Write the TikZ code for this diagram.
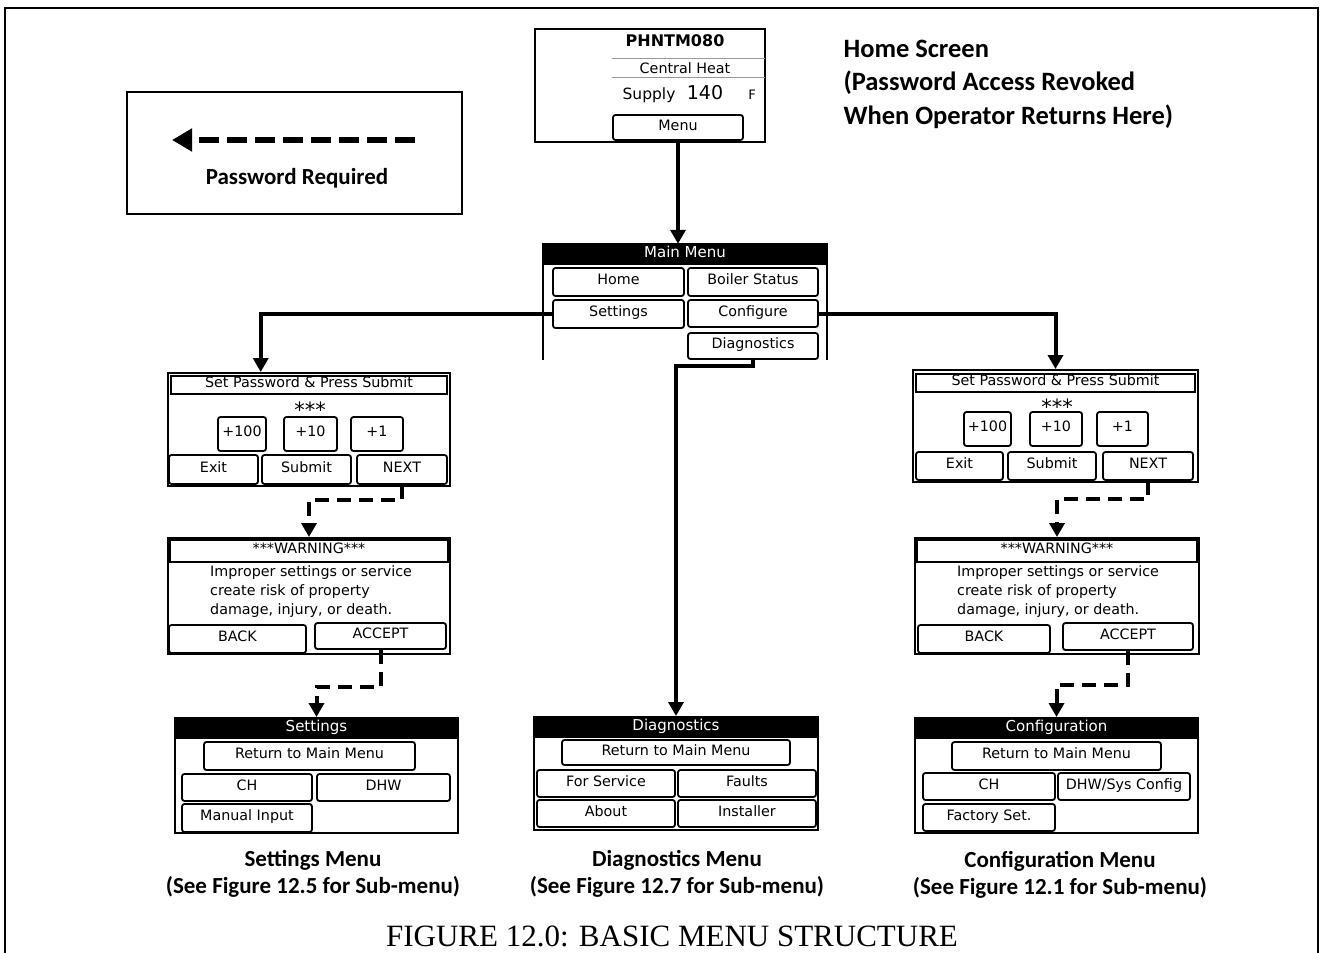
\documentclass[tikz,border=0pt]{standalone}
\usepackage{fontspec}
\setmainfont{Liberation Serif}
\newfontfamily\labfont{Carlito}
\newfontfamily\scrfont{DejaVu Sans}
\usetikzlibrary{arrows.meta,calc}
\tikzset{
 scrtxt/.style={font=\scrfont\fontsize{14.3}{16}\selectfont},
 bigtxt/.style={font=\scrfont\fontsize{15}{17}\selectfont},
 panel/.style={draw, line width=2pt, inner sep=0pt},
 btn/.style={draw, line width=1.8pt, rounded corners=2.5pt, inner sep=0pt, scrtxt, text height=1.6ex, text depth=0.4ex},
 tbox/.style={draw, line width=1.5pt, inner sep=0pt, scrtxt, text height=1.5ex, text depth=0.45ex},
 bar/.style={fill=black, text=white, inner sep=0pt, bigtxt, text height=1.6ex, text depth=0.4ex},
 arr/.style={line width=4pt, -{Triangle[length=14pt,width=15pt]}},
 darr/.style={arr, dash pattern=on 14pt off 8pt},
 lab/.style={font=\labfont\bfseries\fontsize{23}{27}\selectfont},
}
\newcommand\fitnode[7][]{%
  \pgfmathsetmacro\fcx{(#3+#5)/2}\pgfmathsetmacro\fcy{(#4+#6)/2}%
  \pgfmathsetmacro\fw{#5-#3}\pgfmathsetmacro\fh{#6-#4}%
  \node[#1, minimum width=\fw pt, minimum height=\fh pt] (#2) at (\fcx,\fcy) {#7};}
\begin{document}
\begin{tikzpicture}[x=1pt,y=-1pt]
\useasboundingbox (0,0) rectangle (1323,953);
\draw[line width=1.5pt] (5,953) -- (5,8) -- (1318,8) -- (1318,953);

% legend
\fitnode[panel, line width=1.5pt]{leg}{127}{92}{462}{214}{}
\coordinate (lgs) at (415,140);
\coordinate (lge) at (172,140);
\draw[line width=6pt, dash pattern=on 20pt off 8pt, -{Triangle[length=20pt,width=22pt]}] (lgs) -- (lge);
\node[lab] (legt) at (297,178) {Password Required};

% home screen
\fitnode[panel, line width=1.5pt]{home}{535}{29}{765}{142}{}
\node[font=\scrfont\bfseries\fontsize{16}{18}\selectfont] (ph) at (675,41) {PHNTM080};
\draw[black!40, line width=1pt] (612,58) -- (765,58);
\draw[black!40, line width=1pt] (612,77) -- (765,77);
\node[scrtxt] (chh) at (685,68) {Central Heat};
\node[font=\scrfont\fontsize{15.5}{17}\selectfont] (sup) at (649,95) {Supply};
\node[font=\scrfont\fontsize{19}{21}\selectfont] (t140) at (705,93) {140};
\node[font=\scrfont\fontsize{13}{15}\selectfont] (tf) at (752,95) {F};
\fitnode[btn]{menu}{613}{115}{743}{140}{Menu}
\node[lab, font=\labfont\bfseries\fontsize{26.5}{33.5}\selectfont, align=left, anchor=west] (hlab) at (840,84) {Home Screen\\(Password Access Revoked\\When Operator Returns Here)};

% main menu
\fitnode[inner sep=0pt]{mm}{543}{244}{827}{360}{}
\draw[line width=2pt] (mm.south west) -- (mm.north west) -- (mm.north east) -- (mm.south east);
\fitnode[bar]{mmt}{543}{245}{827}{265}{Main Menu}
\fitnode[btn]{mhome}{553}{268}{684}{296}{Home}
\fitnode[btn]{boil}{688}{268}{818}{296}{Boiler Status}
\fitnode[btn]{sett}{553}{300}{684}{328}{Settings}
\fitnode[btn]{conf}{688}{300}{818}{327}{Configure}
\fitnode[btn]{diag}{688}{333}{818}{359}{Diagnostics}
\draw[arr] (menu.south) -- (menu.south |- mm.north);

% left password
\fitnode[panel]{pw1}{168}{373}{450}{486}{}
\fitnode[tbox]{pw1t}{171}{376}{447}{394}{Set Password \& Press Submit}
\node[font=\scrfont\fontsize{21}{23}\selectfont] (pw1s) at (310,410) {***};
\fitnode[btn]{ha}{218}{417}{266}{451}{+100}
\fitnode[btn]{ta}{284}{417}{337}{451}{+10}
\fitnode[btn]{oa}{351}{417}{403}{451}{+1}
\fitnode[btn]{exa}{169}{455}{258}{484}{Exit}
\fitnode[btn]{sba}{262}{455}{351}{484}{Submit}
\fitnode[btn]{nx1}{357}{455}{447}{484}{NEXT}

% left warning
\fitnode[panel]{wn1}{168}{538}{450}{654}{}
\fitnode[tbox]{wn1t}{170}{540}{448}{562}{***WARNING***}
\node[scrtxt, anchor=west, inner sep=0pt] (w1a) at (210,573) {Improper settings or service};
\node[scrtxt, anchor=west, inner sep=0pt] (w1b) at (210,592) {create risk of property};
\node[scrtxt, anchor=west, inner sep=0pt] (w1c) at (210,611) {damage, injury, or death.};
\fitnode[btn]{bk1}{169}{625}{306}{653}{BACK}
\fitnode[btn]{ac1}{315}{623}{446}{649}{ACCEPT}

% settings menu
\fitnode[panel]{sm}{175}{718}{458}{833}{}
\fitnode[bar]{smt}{176}{719}{457}{739}{Settings}
\fitnode[btn]{smr}{204}{742}{415}{770}{Return to Main Menu}
\fitnode[btn]{smch}{182}{774}{312}{801}{CH}
\fitnode[btn]{smd}{317}{774}{450}{801}{DHW}
\fitnode[btn]{smm}{182}{804}{312}{832}{Manual Input}
\node[lab] (sml1) at (313,860) {Settings Menu};
\node[lab] (sml2) at (313,887) {(See Figure 12.5 for Sub-menu)};

% diagnostics menu
\fitnode[panel]{dm}{534}{717}{818}{830}{}
\fitnode[bar]{dmt}{535}{718}{817}{738}{Diagnostics}
\fitnode[btn]{dmr}{562}{740}{790}{765}{Return to Main Menu}
\fitnode[btn]{dfs}{537}{770}{675}{797}{For Service}
\fitnode[btn]{dfa}{678}{770}{816}{797}{Faults}
\fitnode[btn]{dab}{537}{800}{675}{827}{About}
\fitnode[btn]{din}{678}{800}{816}{827}{Installer}
\node[lab] (dml1) at (677,860) {Diagnostics Menu};
\node[lab] (dml2) at (677,887) {(See Figure 12.7 for Sub-menu)};

% right password
\fitnode[panel]{pw2}{913}{370}{1198}{482}{}
\fitnode[tbox]{pw2t}{916}{374}{1195}{392}{Set Password \& Press Submit}
\node[font=\scrfont\fontsize{21}{23}\selectfont] (pw2s) at (1057,407) {***};
\fitnode[btn]{hb}{964}{412}{1011}{446}{+100}
\fitnode[btn]{tb}{1030}{412}{1082}{446}{+10}
\fitnode[btn]{ob}{1097}{412}{1148}{446}{+1}
\fitnode[btn]{exb}{916}{452}{1003}{480}{Exit}
\fitnode[btn]{sbb}{1008}{452}{1096}{480}{Submit}
\fitnode[btn]{nx2}{1103}{452}{1193}{480}{NEXT}

% right warning
\fitnode[panel]{wn2}{915}{538}{1199}{654}{}
\fitnode[tbox]{wn2t}{917}{540}{1197}{562}{***WARNING***}
\node[scrtxt, anchor=west, inner sep=0pt] (w2a) at (957,573) {Improper settings or service};
\node[scrtxt, anchor=west, inner sep=0pt] (w2b) at (957,592) {create risk of property};
\node[scrtxt, anchor=west, inner sep=0pt] (w2c) at (957,611) {damage, injury, or death.};
\fitnode[btn]{bk2}{918}{625}{1050}{653}{BACK}
\fitnode[btn]{ac2}{1063}{623}{1193}{650}{ACCEPT}

% configuration menu
\fitnode[panel]{cm}{915}{718}{1198}{833}{}
\fitnode[bar]{cmt}{916}{719}{1197}{739}{Configuration}
\fitnode[btn]{cmr}{952}{742}{1161}{770}{Return to Main Menu}
\fitnode[btn]{cmch}{923}{773}{1055}{800}{CH}
\fitnode[btn]{cmd}{1058}{773}{1190}{800}{DHW/Sys Config}
\fitnode[btn]{cmf}{923}{804}{1055}{831}{Factory Set.}
\node[lab] (cml1) at (1060,861) {Configuration Menu};
\node[lab] (cml2) at (1060,888) {(See Figure 12.1 for Sub-menu)};

% connectors
\draw[arr] (sett.west) -| ($(pw1.north west)!0.33!(pw1.north east)$);
\draw[arr] (conf.east) -| (pw2.north);
\draw[arr] (diag.south) -- ++(0,6) -| (dm.north);
\draw[darr] (nx1.south) -- ++(0,15) -| (wn1.north);
\draw[darr] (ac1.south) -- ++(0,37) -| (sm.north);
\draw[darr] (nx2.south) -- ++(0,18) -| (wn2.north);
\draw[darr] (ac2.south) -- ++(0,34) -| (cm.north);

% caption
\node[font=\fontsize{31}{33}\selectfont] (cap) at (672,936) {FIGURE 12.0: BASIC MENU STRUCTURE};
\end{tikzpicture}
\end{document}
